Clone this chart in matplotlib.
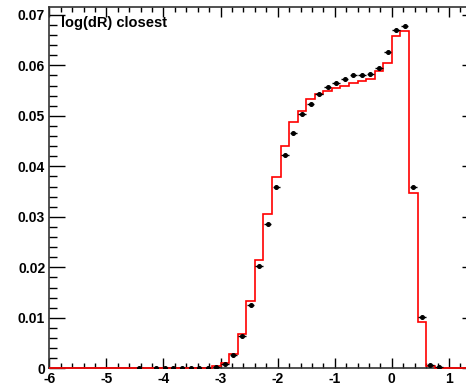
import numpy as np
import matplotlib
matplotlib.use('Agg')
import matplotlib.pyplot as plt
import matplotlib.ticker as ticker

matplotlib.rcParams['font.family'] = ['Liberation Sans', 'DejaVu Sans']
matplotlib.rcParams['font.weight'] = 'bold'
matplotlib.rcParams['axes.unicode_minus'] = False

# Histogram binning: 50 bins from -6 to 1.5
x_lo, x_hi, n_bins = -6.0, 1.5, 50

# Reference histogram (red line), one value per bin
red_vals = [0, 0, 0, 0, 0, 0, 0, 0, 0, 0,
            0, 0, 0, 0, 0, 0, 0, 0, 0, 0.0004,
            0.0010, 0.0028, 0.0068, 0.0134, 0.0214, 0.0305, 0.0378, 0.0440, 0.0488, 0.0510,
            0.0534, 0.0543, 0.0550, 0.0555, 0.0560, 0.0566, 0.0569, 0.0573, 0.0589, 0.0605,
            0.0659, 0.0669, 0.0348, 0.0092, 0.0005, 0, 0, 0, 0, 0]

# Data points (black markers), one value per bin
black_vals = [0, 0, 0, 0, 0, 0, 0, 0, 0, 0,
              0.0001, 0, 0.0001, 0.0001, 0.0001, 0.0001, 0.0001, 0.0001, 0.0001, 0.0002,
              0.0009, 0.0026, 0.0064, 0.0125, 0.0203, 0.0285, 0.0360, 0.0422, 0.0467, 0.0503,
              0.0524, 0.0544, 0.0557, 0.0566, 0.0572, 0.0580, 0.0580, 0.0583, 0.0595, 0.0627,
              0.0670, 0.0678, 0.0360, 0.0101, 0.0007, 0.0002, 0, 0, 0, 0]

edges = np.linspace(x_lo, x_hi, n_bins + 1)
centers = 0.5 * (edges[:-1] + edges[1:])
black = np.array(black_vals)
keep = black > 0

fig = plt.figure(figsize=(4.66, 3.88), dpi=100)
ax = fig.add_axes([0.1058, 0.0508, 1.0247 - 0.1058, 0.9812 - 0.0508])

ax.stairs(red_vals, edges, color='red', linewidth=1.2, clip_on=False, zorder=3)
ax.errorbar(centers[keep], black[keep], xerr=0.065, fmt='o', color='black',
            markersize=2.6, elinewidth=1, capsize=0, zorder=4)

ax.set_xlim(x_lo, x_hi)
ax.set_ylim(0, 0.0715)

ax.xaxis.set_major_locator(ticker.MultipleLocator(1))
ax.xaxis.set_minor_locator(ticker.MultipleLocator(0.2))
ax.yaxis.set_major_locator(ticker.MultipleLocator(0.01))
ax.yaxis.set_minor_locator(ticker.MultipleLocator(0.002))
ax.yaxis.set_major_formatter(ticker.FuncFormatter(lambda v, p: '%g' % round(v, 4)))
ax.xaxis.set_major_formatter(ticker.FuncFormatter(lambda v, p: '%g' % v))

ax.tick_params(axis='x', which='both', direction='in', top=True, bottom=True,
               labelsize=10, pad=3)
ax.tick_params(axis='x', which='major', length=7.2, width=1)
ax.tick_params(axis='x', which='minor', length=3.6, width=1)
ax.tick_params(axis='y', which='both', direction='in', left=True, right=True,
               labelsize=10, pad=3)
ax.tick_params(axis='y', which='major', length=11.5, width=1)
ax.tick_params(axis='y', which='minor', length=5.4, width=1)

for s in ax.spines.values():
    s.set_linewidth(1.2)
    s.set_color('#333333')

ax.text(60.7 / 466, 1 - 27.3 / 388, 'log(dR) closest', transform=fig.transFigure,
        fontsize=10.5, fontweight='bold', ha='left', va='baseline')

fig.savefig('out.png', dpi=100)
